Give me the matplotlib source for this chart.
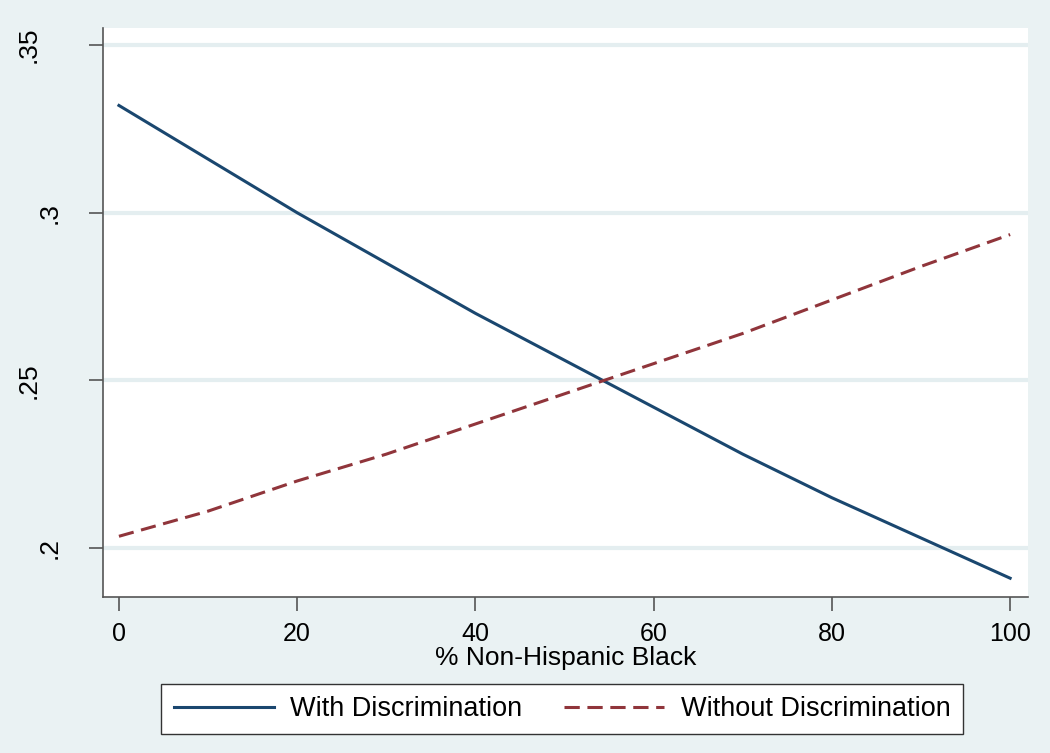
import numpy as np
import matplotlib.pyplot as plt
from matplotlib.transforms import ScaledTranslation

plt.rcParams['font.family'] = ['Liberation Sans', 'DejaVu Sans']

# predicted values
pct_black = [0, 10, 20, 30, 40, 50, 60, 70, 80, 90, 100]
with_disc = [0.332, 0.316, 0.300, 0.285, 0.270, 0.256, 0.242, 0.228, 0.215, 0.203, 0.191]
without_disc = [0.2035, 0.211, 0.220, 0.228, 0.237, 0.246, 0.255, 0.264, 0.274, 0.284, 0.2935]

yticks = [0.2, 0.25, 0.3, 0.35]
ytick_labels = [".2", ".25", ".3", ".35"]
xticks = [0, 20, 40, 60, 80, 100]

bg = "#EAF2F3"
fig = plt.figure(figsize=(10.5, 7.53), dpi=100, facecolor=bg)
ax = fig.add_axes([0.098, 0.2072, 0.881, 0.7556])
ax.set_facecolor("white")

ax.plot(pct_black, with_disc, color="#1A476F", linewidth=2.2,
        label="With Discrimination")
ax.plot(pct_black, without_disc, color="#90353B", linewidth=2.2,
        linestyle=(0, (5, 2.5)), label="Without Discrimination")

ax.set_xlim(-1.8, 102.0)
ax.set_ylim(0.1854, 0.3551)
ax.set_yticks(yticks)
ax.set_yticklabels(ytick_labels, rotation=90, va="center")
ax.set_xticks(xticks)
for y in yticks:
    ax.axhline(y, color="#E4EEF0", linewidth=3, zorder=0)

for s in ["top", "right"]:
    ax.spines[s].set_visible(False)
for s in ["left", "bottom"]:
    ax.spines[s].set_color("#555555")
    ax.spines[s].set_linewidth(1.2)
ax.tick_params(direction="out", length=10, width=1.2, color="#555555")
ax.tick_params(axis="x", labelsize=18, pad=8)
ax.tick_params(axis="y", labelsize=19, pad=20)
# Stata pushes the longer rotated labels further out
for lab in ax.get_yticklabels():
    if len(lab.get_text()) > 2:
        lab.set_transform(lab.get_transform() +
                          ScaledTranslation(-21 / 100, 0, fig.dpi_scale_trans))
ax.set_xlabel("% Non-Hispanic Black", fontsize=19, labelpad=0)

leg = fig.legend(loc="center", ncol=2, fontsize=19.5,
                 bbox_to_anchor=(562 / 1050, 1 - 709 / 753),
                 fancybox=False, edgecolor="#333333", framealpha=1,
                 handlelength=3.7, handletextpad=0.6, columnspacing=1.55,
                 borderpad=0.45, borderaxespad=0)
leg.get_frame().set_linewidth(1.0)

plt.savefig("out.png", dpi=100, facecolor=bg)
